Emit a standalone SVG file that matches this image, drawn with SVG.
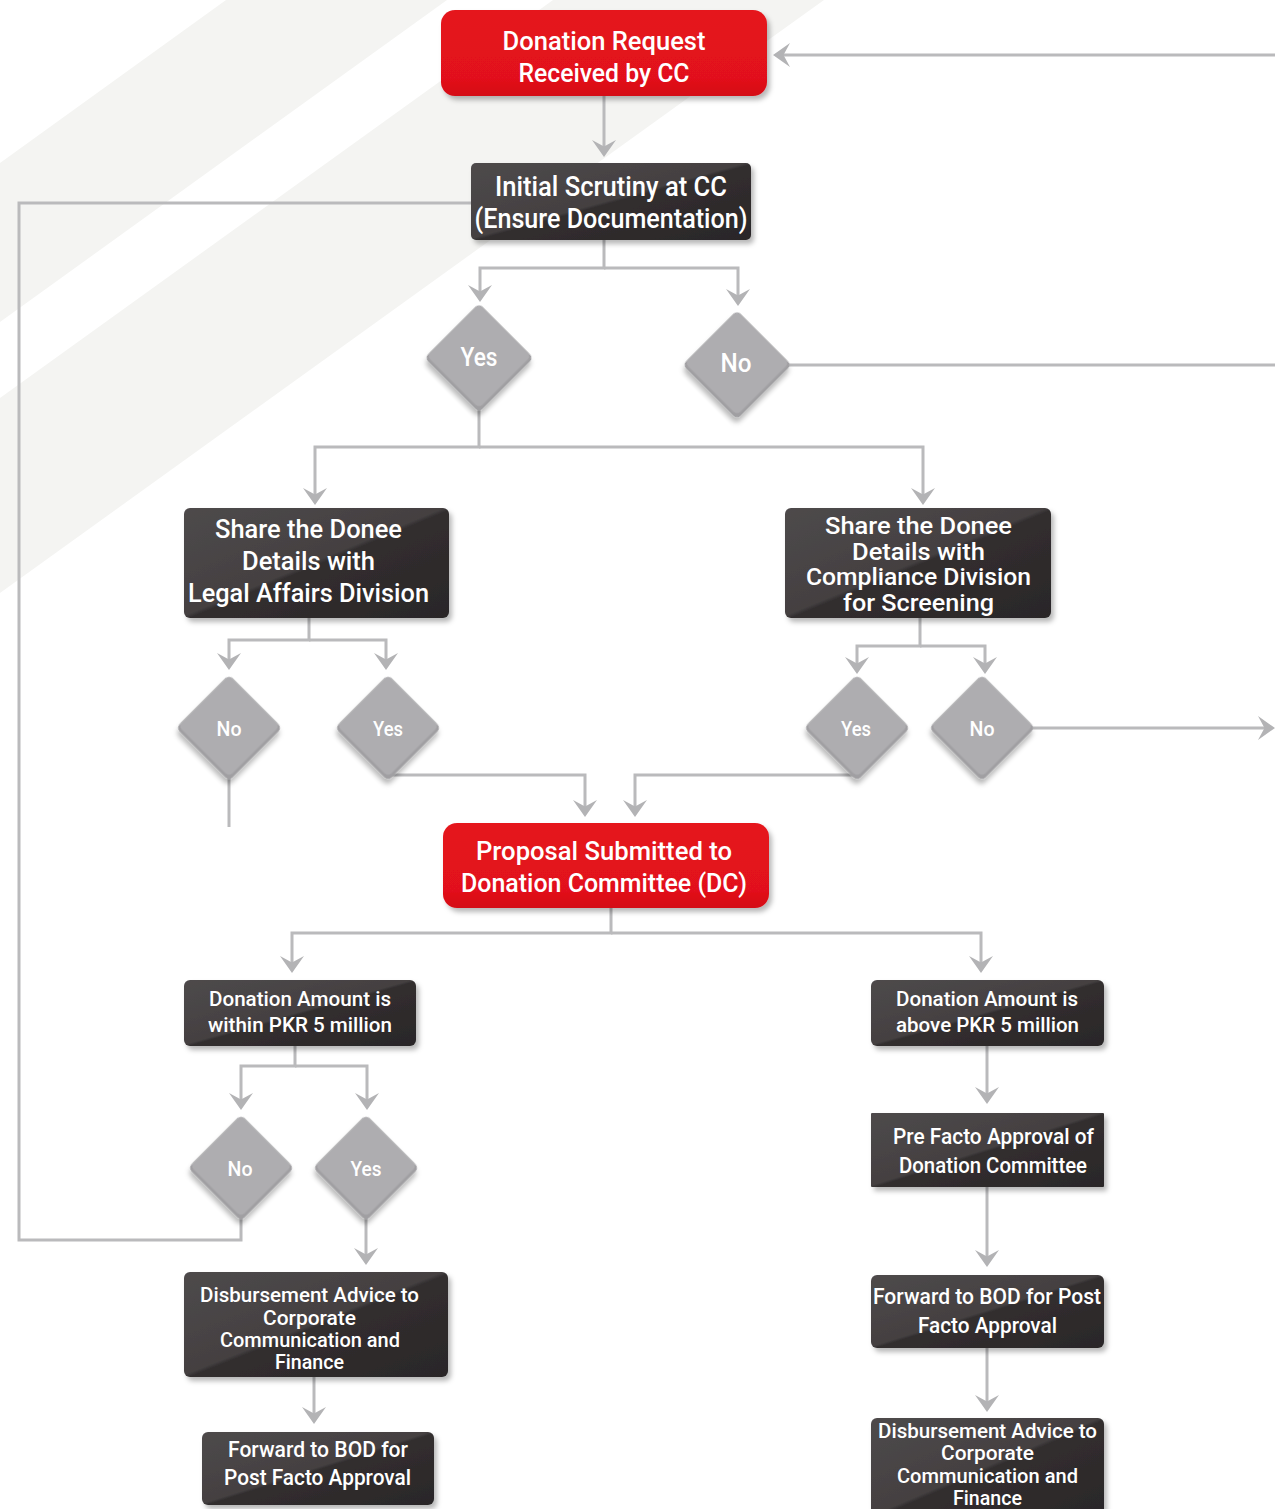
<svg xmlns="http://www.w3.org/2000/svg" width="1275" height="1509" viewBox="0 0 1275 1509">
<defs>
<style>
.t{font-family:Roboto,"Liberation Sans",sans-serif;font-weight:500;fill:#fff;text-anchor:middle}
.c{fill:none;stroke:#bababc;stroke-width:3}
.ca{fill:none;stroke:#bababc;stroke-width:3;marker-end:url(#ah)}
.dark{fill:url(#gd);filter:url(#sh)}
.red{fill:url(#gr);filter:url(#sh)}
.dbase{fill:#a09fa2}
.dtop{fill:#aeadb0}
</style>
<linearGradient id="gd" x1="0" y1="0" x2="1" y2="1">
<stop offset="0" stop-color="#4e4a4b"/>
<stop offset="0.49" stop-color="#444041"/>
<stop offset="0.51" stop-color="#322e2f"/>
<stop offset="1" stop-color="#2a2728"/>
</linearGradient>
<linearGradient id="gr" x1="0" y1="0" x2="0" y2="1">
<stop offset="0" stop-color="#e5141d"/>
<stop offset="0.8" stop-color="#e2111a"/>
<stop offset="1" stop-color="#d40c15"/>
</linearGradient>
<filter id="sh" x="-10%" y="-10%" width="125%" height="130%">
<feDropShadow dx="3" dy="4" stdDeviation="2.5" flood-color="#000" flood-opacity="0.28"/>
</filter>
<marker id="ah" markerUnits="userSpaceOnUse" viewBox="0 0 17 24" markerWidth="17" markerHeight="24" refX="11" refY="12" orient="auto">
<path d="M0,0 L17,12 L0,24 L6.5,12 Z" fill="#b3b3b5"/>
</marker>
</defs>
<rect width="1275" height="1509" fill="#fff"/>
<g id="background">
<polygon points="226,0 447,0 0,322 0,163" fill="#f4f4f2"/>
<polygon points="553,0 824,0 0,593 0,398" fill="#f4f4f2"/>
</g>
<g id="connectors">
<path class="ca" d="M604,96 V151"/>
<path class="ca" d="M1275,55 H779"/>
<path class="ca" d="M604,240 V268 H480 V296"/>
<path class="ca" d="M604,268 H738 V300"/>
<path class="c" d="M787,365 H1275"/>
<path class="c" d="M471,203 H19 V1240 H241 V1215"/>
<path class="ca" d="M479,408 V447 H315 V499"/>
<path class="ca" d="M479,447 H923 V499"/>
<path class="ca" d="M309,618 V640 H229 V664"/>
<path class="ca" d="M309,640 H386 V664"/>
<path class="c" d="M229,777 V827"/>
<path class="ca" d="M388,775 H585 V811"/>
<path class="ca" d="M920,618 V646 H857 V668"/>
<path class="ca" d="M920,646 H985 V668"/>
<path class="ca" d="M1031,728 H1269"/>
<path class="ca" d="M857,775 H635 V811"/>
<path class="ca" d="M611,908 V933 H292 V967"/>
<path class="ca" d="M611,933 H981 V967"/>
<path class="ca" d="M295,1046 V1066 H241 V1104"/>
<path class="ca" d="M295,1066 H367 V1104"/>
<path class="ca" d="M366,1217 V1259"/>
<path class="ca" d="M314,1377 V1418"/>
<path class="ca" d="M987,1046 V1098"/>
<path class="ca" d="M987,1187 V1261"/>
<path class="ca" d="M987,1348 V1406"/>
</g>
<g id="n-request">
<rect class="red" x="441" y="10" width="326" height="86" rx="14"/>
<text class="t" font-size="25"><tspan x="604" y="50" textLength="203" lengthAdjust="spacingAndGlyphs">Donation Request</tspan><tspan x="604" y="82" textLength="171" lengthAdjust="spacingAndGlyphs">Received by CC</tspan></text>
</g>
<g id="n-scrutiny">
<rect class="dark" x="471" y="163" width="280" height="77" rx="5"/>
<text class="t" font-size="27"><tspan x="611" y="196" textLength="232" lengthAdjust="spacingAndGlyphs">Initial Scrutiny at CC</tspan><tspan x="611" y="228" textLength="273" lengthAdjust="spacingAndGlyphs">(Ensure Documentation)</tspan></text>
</g>
<g id="d-yes1">
<g transform="translate(479,358) rotate(45)" filter="url(#sh)"><rect class="dbase" x="-38.5" y="-38.5" width="77" height="77" rx="5"/><rect class="dtop" x="-38.5" y="-38.5" width="74" height="74" rx="5"/></g>
<text class="t" font-size="25" x="479" y="366" textLength="37" lengthAdjust="spacingAndGlyphs">Yes</text>
</g>
<g id="d-no1">
<g transform="translate(737,365) rotate(45)" filter="url(#sh)"><rect class="dbase" x="-38.5" y="-38.5" width="77" height="77" rx="5"/><rect class="dtop" x="-38.5" y="-38.5" width="74" height="74" rx="5"/></g>
<text class="t" font-size="25" x="736" y="372" textLength="31" lengthAdjust="spacingAndGlyphs">No</text>
</g>
<g id="n-legal">
<rect class="dark" x="184" y="508" width="265" height="110" rx="6"/>
<text class="t" font-size="26"><tspan x="308.5" y="538" textLength="187" lengthAdjust="spacingAndGlyphs">Share the Donee</tspan><tspan x="308.5" y="570" textLength="133" lengthAdjust="spacingAndGlyphs">Details with</tspan><tspan x="308.5" y="602" textLength="241" lengthAdjust="spacingAndGlyphs">Legal Affairs Division</tspan></text>
</g>
<g id="n-compliance">
<rect class="dark" x="785" y="508" width="266" height="110" rx="6"/>
<text class="t" font-size="24"><tspan x="918.5" y="534" textLength="187" lengthAdjust="spacingAndGlyphs">Share the Donee</tspan><tspan x="918.5" y="560" textLength="133" lengthAdjust="spacingAndGlyphs">Details with</tspan><tspan x="918.5" y="585" textLength="225" lengthAdjust="spacingAndGlyphs">Compliance Division</tspan><tspan x="918.5" y="611" textLength="151" lengthAdjust="spacingAndGlyphs">for Screening</tspan></text>
</g>
<g id="d-no2">
<g transform="translate(229,728) rotate(45)" filter="url(#sh)"><rect class="dbase" x="-37.5" y="-37.5" width="75" height="75" rx="5"/><rect class="dtop" x="-37.5" y="-37.5" width="72" height="72" rx="5"/></g>
<text class="t" font-size="20" x="229" y="736" textLength="25" lengthAdjust="spacingAndGlyphs">No</text>
</g>
<g id="d-yes2">
<g transform="translate(388,728) rotate(45)" filter="url(#sh)"><rect class="dbase" x="-37.5" y="-37.5" width="75" height="75" rx="5"/><rect class="dtop" x="-37.5" y="-37.5" width="72" height="72" rx="5"/></g>
<text class="t" font-size="20" x="388" y="736" textLength="30" lengthAdjust="spacingAndGlyphs">Yes</text>
</g>
<g id="d-yes3">
<g transform="translate(857,728) rotate(45)" filter="url(#sh)"><rect class="dbase" x="-37.5" y="-37.5" width="75" height="75" rx="5"/><rect class="dtop" x="-37.5" y="-37.5" width="72" height="72" rx="5"/></g>
<text class="t" font-size="20" x="856" y="736" textLength="30" lengthAdjust="spacingAndGlyphs">Yes</text>
</g>
<g id="d-no3">
<g transform="translate(982,728) rotate(45)" filter="url(#sh)"><rect class="dbase" x="-37.5" y="-37.5" width="75" height="75" rx="5"/><rect class="dtop" x="-37.5" y="-37.5" width="72" height="72" rx="5"/></g>
<text class="t" font-size="20" x="982" y="736" textLength="25" lengthAdjust="spacingAndGlyphs">No</text>
</g>
<g id="n-proposal">
<rect class="red" x="443" y="823" width="326" height="85" rx="14"/>
<text class="t" font-size="26"><tspan x="604" y="860" textLength="256" lengthAdjust="spacingAndGlyphs">Proposal Submitted to</tspan><tspan x="604" y="892" textLength="286" lengthAdjust="spacingAndGlyphs">Donation Committee (DC)</tspan></text>
</g>
<g id="n-within">
<rect class="dark" x="184" y="980" width="232" height="66" rx="6"/>
<text class="t" font-size="20"><tspan x="300" y="1006" textLength="182" lengthAdjust="spacingAndGlyphs">Donation Amount is</tspan><tspan x="300" y="1032" textLength="184" lengthAdjust="spacingAndGlyphs">within PKR 5 million</tspan></text>
</g>
<g id="n-above">
<rect class="dark" x="871" y="980" width="233" height="66" rx="6"/>
<text class="t" font-size="20"><tspan x="987" y="1006" textLength="182" lengthAdjust="spacingAndGlyphs">Donation Amount is</tspan><tspan x="987.5" y="1032" textLength="183" lengthAdjust="spacingAndGlyphs">above PKR 5 million</tspan></text>
</g>
<g id="d-no4">
<g transform="translate(241,1168) rotate(45)" filter="url(#sh)"><rect class="dbase" x="-37.5" y="-37.5" width="75" height="75" rx="5"/><rect class="dtop" x="-37.5" y="-37.5" width="72" height="72" rx="5"/></g>
<text class="t" font-size="20" x="240" y="1176" textLength="25" lengthAdjust="spacingAndGlyphs">No</text>
</g>
<g id="d-yes4">
<g transform="translate(366,1168) rotate(45)" filter="url(#sh)"><rect class="dbase" x="-37.5" y="-37.5" width="75" height="75" rx="5"/><rect class="dtop" x="-37.5" y="-37.5" width="72" height="72" rx="5"/></g>
<text class="t" font-size="20" x="366" y="1176" textLength="31" lengthAdjust="spacingAndGlyphs">Yes</text>
</g>
<g id="n-disburse-left">
<rect class="dark" x="184" y="1272" width="264" height="105" rx="6"/>
<text class="t" font-size="21"><tspan x="309.5" y="1302" textLength="219" lengthAdjust="spacingAndGlyphs">Disbursement Advice to</tspan><tspan x="309.5" y="1325" textLength="93" lengthAdjust="spacingAndGlyphs">Corporate</tspan><tspan x="310" y="1347" textLength="180" lengthAdjust="spacingAndGlyphs">Communication and</tspan><tspan x="309.5" y="1369" textLength="69" lengthAdjust="spacingAndGlyphs">Finance</tspan></text>
</g>
<g id="n-forward-left">
<rect class="dark" x="202" y="1432" width="232" height="73" rx="6"/>
<text class="t" font-size="22"><tspan x="318" y="1457" textLength="180" lengthAdjust="spacingAndGlyphs">Forward to BOD for</tspan><tspan x="317.5" y="1485" textLength="187" lengthAdjust="spacingAndGlyphs">Post Facto Approval</tspan></text>
</g>
<g id="n-prefacto">
<rect class="dark" x="871" y="1113" width="233" height="74" rx="1"/>
<text class="t" font-size="22"><tspan x="993.5" y="1144" textLength="201" lengthAdjust="spacingAndGlyphs">Pre Facto Approval of</tspan><tspan x="993" y="1173" textLength="188" lengthAdjust="spacingAndGlyphs">Donation Committee</tspan></text>
</g>
<g id="n-forward-right">
<rect class="dark" x="871" y="1275" width="233" height="73" rx="6"/>
<text class="t" font-size="22"><tspan x="987" y="1304" textLength="228" lengthAdjust="spacingAndGlyphs">Forward to BOD for Post</tspan><tspan x="987.5" y="1333" textLength="139" lengthAdjust="spacingAndGlyphs">Facto Approval</tspan></text>
</g>
<g id="n-disburse-right">
<rect class="dark" x="871" y="1418" width="233" height="100" rx="6"/>
<text class="t" font-size="21"><tspan x="987.5" y="1438" textLength="219" lengthAdjust="spacingAndGlyphs">Disbursement Advice to</tspan><tspan x="987.5" y="1460" textLength="93" lengthAdjust="spacingAndGlyphs">Corporate</tspan><tspan x="987.5" y="1483" textLength="181" lengthAdjust="spacingAndGlyphs">Communication and</tspan><tspan x="987.5" y="1505" textLength="69" lengthAdjust="spacingAndGlyphs">Finance</tspan></text>
</g>
</svg>
